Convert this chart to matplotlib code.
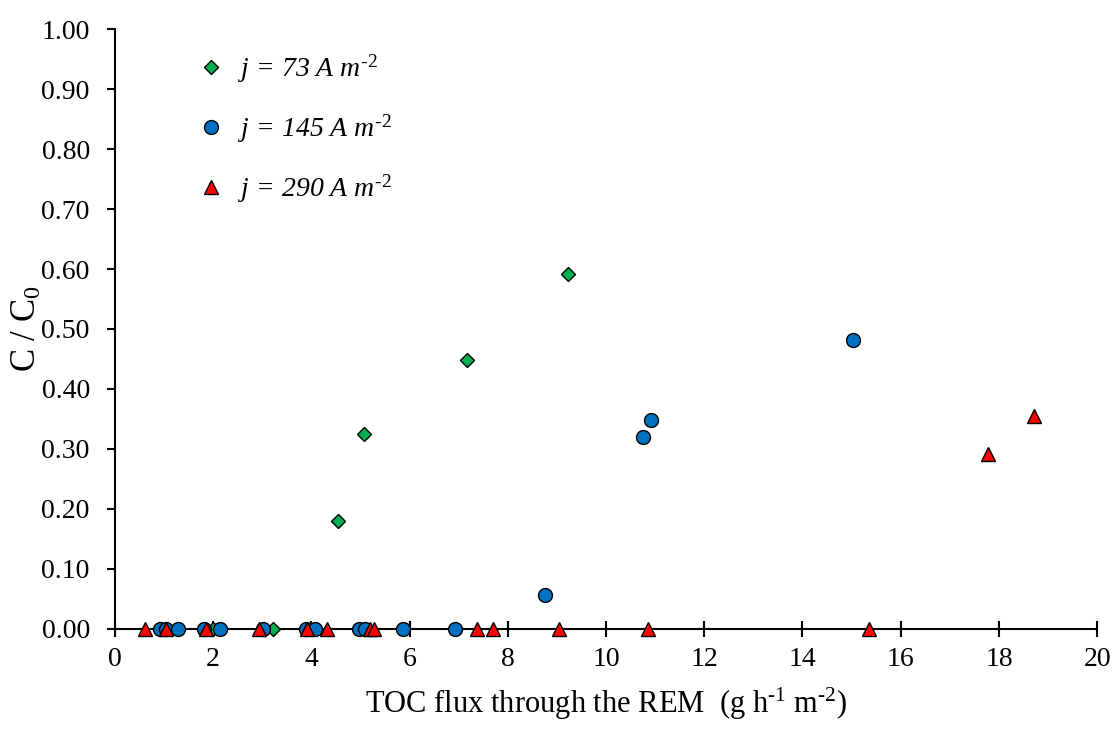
import matplotlib.pyplot as plt

plt.rcParams['font.family'] = ['Liberation Serif', 'DejaVu Serif']
plt.rcParams['mathtext.fontset'] = 'custom'
plt.rcParams['mathtext.rm'] = 'Liberation Serif'
plt.rcParams['mathtext.it'] = 'Liberation Serif:italic'

# TOC flux (g h-1 m-2) and C/C0 for each current density
x_73 = [2.0, 3.21, 4.55, 5.08, 7.16, 9.23]
y_73 = [0.0, 0.0, 0.180, 0.325, 0.449, 0.591]

x_145 = [0.92, 1.05, 1.29, 1.81, 2.14, 3.01, 3.90, 4.07, 4.98, 5.09, 5.87,
         6.92, 8.76, 10.76, 10.92, 15.03]
y_145 = [0, 0, 0, 0, 0, 0, 0, 0, 0, 0, 0, 0, 0.056, 0.320, 0.348, 0.482]

x_290 = [0.61, 1.04, 1.85, 2.94, 3.92, 4.31, 5.19, 5.27, 7.38, 7.70, 9.05,
         10.86, 15.36, 17.78, 18.72]
y_290 = [0, 0, 0, 0, 0, 0, 0, 0, 0, 0, 0, 0, 0, 0.292, 0.355]

labels = [r'$j$ = 73 A $m^{\mathit{\text{-2}}}$',
          r'$j$ = 145 A $m^{\mathit{\text{-2}}}$',
          r'$j$ = 290 A $m^{\mathit{\text{-2}}}$']

fig = plt.figure(figsize=(11.15, 7.31), dpi=100)
ax = fig.add_axes([0.103, 0.140, 0.881, 0.820])

ax.plot(x_73, y_73, linestyle='none', marker='D', markersize=7.2,
        markerfacecolor='#00B050', markeredgecolor='black', markeredgewidth=1,
        label=labels[0], clip_on=False, zorder=3)
ax.plot(x_145, y_145, linestyle='none', marker='o', markersize=10,
        markerfacecolor='#0070C0', markeredgecolor='black', markeredgewidth=1,
        label=labels[1], clip_on=False, zorder=4)
ax.plot(x_290, y_290, linestyle='none', marker='^', markersize=10,
        markerfacecolor='#FF0000', markeredgecolor='black', markeredgewidth=1,
        label=labels[2], clip_on=False, zorder=5)

ax.set_xlim(0, 20)
ax.set_ylim(0, 1.0)
ax.set_xticks(range(0, 21, 2))
ax.set_yticks([i / 10 for i in range(11)])
ax.set_yticklabels(['%.2f' % (i / 10) for i in range(11)])

for s in ['top', 'right']:
    ax.spines[s].set_visible(False)
for s in ['left', 'bottom']:
    ax.spines[s].set_linewidth(1.5)
    ax.spines[s].set_zorder(2)

ax.tick_params(axis='x', direction='inout', length=11, width=1.5,
               labelsize=20, pad=8)
ax.tick_params(axis='y', direction='out', length=6, width=1.5,
               labelsize=20, pad=12)

ax.set_xlabel(r'TOC flux through the REM  (g h$^{\text{-1}}$ m$^{\text{-2}}$)',
              fontsize=22, labelpad=10)
ax.set_ylabel('C / C$_0$', fontsize=25, labelpad=-2)

leg = ax.legend(loc='upper left', bbox_to_anchor=(0.058, 1.003), frameon=False,
                fontsize=20, labelspacing=1.0, handletextpad=0.5,
                handlelength=1.0, numpoints=1)
for t in leg.get_texts():
    t.set_fontstyle('italic')

fig.savefig('out.png', dpi=100)
